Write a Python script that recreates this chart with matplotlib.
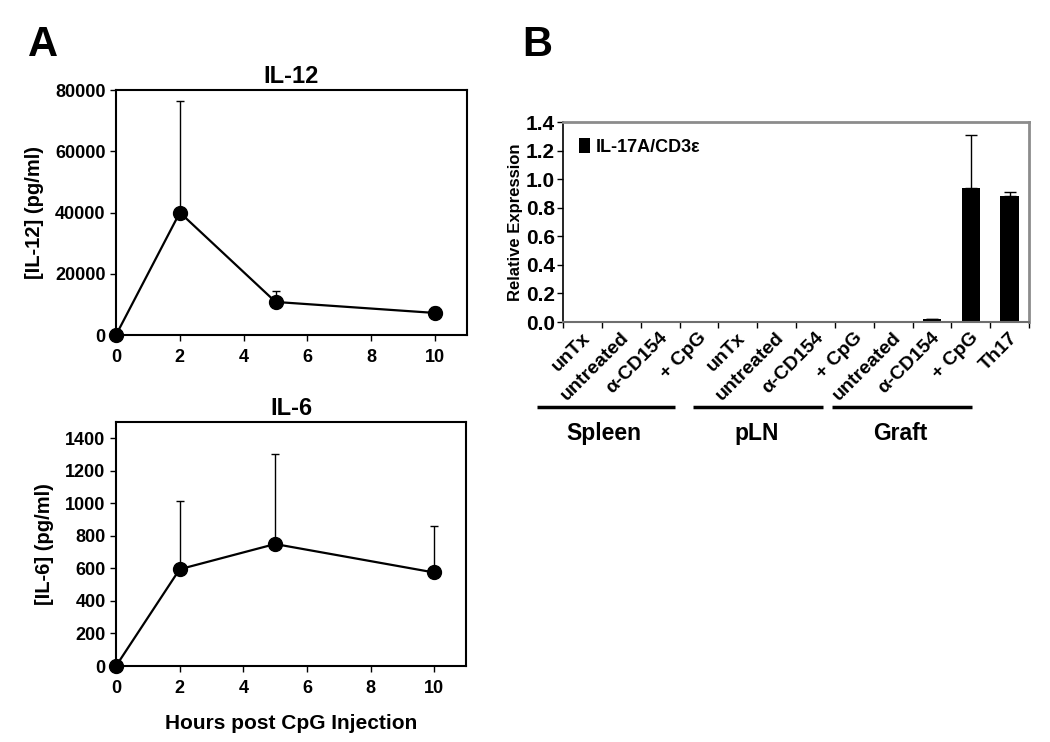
import matplotlib
matplotlib.use('Agg')
import matplotlib.pyplot as plt

plt.rcParams['font.family'] = ['Liberation Sans', 'DejaVu Sans']
plt.rcParams['font.weight'] = 'bold'

# Panel A: time course
hours = [0, 2, 5, 10]
il12 = [0, 40000, 10800, 7200]
il12_err = [0, 36500, 3700, 1800]
il6 = [0, 595, 750, 575]
il6_err = [0, 420, 555, 285]

# Panel B: relative expression
b_labels = ['unTx', 'untreated', '\u03b1-CD154', '+ CpG',
            'unTx', 'untreated', '\u03b1-CD154', '+ CpG',
            'untreated', '\u03b1-CD154', '+ CpG', 'Th17']
b_values = [0.002, 0.002, 0.002, 0.002, 0.002, 0.002, 0.002, 0.002,
            0.002, 0.02, 0.94, 0.88]
b_err = [0, 0, 0, 0, 0, 0, 0, 0, 0, 0, 0.37, 0.03]
groups = ['Spleen', 'pLN', 'Graft']
# underline extents in category units (layout)
group_lines = [(-1.17, 2.39), (2.85, 6.2), (6.43, 10.02)]

fig = plt.figure(figsize=(10.5, 7.42), dpi=100)


def time_panel(rect, y, err, ymax, yticks, title, ylabel, xlabel=None):
    ax = fig.add_axes(rect)
    ax.errorbar(hours, y, yerr=[[0] * len(err), err], fmt='none',
                ecolor='black', elinewidth=1, capsize=3, capthick=1)
    ax.plot(hours, y, color='black', lw=1.6, marker='o', ms=10,
            clip_on=False, zorder=5)
    ax.set_xlim(0, 11)
    ax.set_ylim(0, ymax)
    ax.set_xticks([0, 2, 4, 6, 8, 10])
    ax.set_yticks(yticks)
    for s in ax.spines.values():
        s.set_linewidth(1.5)
    ax.tick_params(direction='out', length=4, width=1, labelsize=13)
    ax.tick_params(axis='x', pad=6)
    ax.set_title(title, fontsize=17, fontweight='bold', pad=5)
    ax.set_ylabel(ylabel, fontsize=14.5, fontweight='bold', labelpad=8)
    if xlabel:
        ax.set_xlabel(xlabel, fontsize=15, fontweight='bold', labelpad=12)
    return ax


time_panel([0.1105, 0.5485, 0.3343, 0.3302], il12, il12_err, 80000,
           range(0, 80001, 20000), 'IL-12', '[IL-12] (pg/ml)')
time_panel([0.1105, 0.1024, 0.3333, 0.3288], il6, il6_err, 1500,
           range(0, 1401, 200), 'IL-6', '[IL-6] (pg/ml)',
           'Hours post CpG Injection')

# Panel B
axb = fig.add_axes([0.5362, 0.566, 0.4438, 0.2695])
x = list(range(len(b_values)))
axb.bar(x, b_values, width=0.47, color='black', label='IL-17A/CD3\u03b5',
        yerr=[[0] * len(b_err), b_err], error_kw=dict(ecolor='black', elinewidth=1,
                                                     capsize=4, capthick=1))
axb.set_xlim(-0.5, len(b_values) - 0.5)
axb.set_ylim(0, 1.4)
axb.set_yticks([0.0, 0.2, 0.4, 0.6, 0.8, 1.0, 1.2, 1.4])
axb.set_yticklabels(['%.1f' % v for v in axb.get_yticks()])
axb.set_xticks([i + 0.5 for i in range(-1, len(b_values))], minor=False)
axb.set_xticklabels([])
axb.tick_params(axis='both', direction='out', length=4, width=1, labelsize=15)
axb.tick_params(axis='y', pad=2)
axb.spines['top'].set_color('#8c8c8c')
axb.spines['right'].set_color('#8c8c8c')
axb.spines['top'].set_linewidth(2)
axb.spines['right'].set_linewidth(2)
axb.spines['left'].set_linewidth(1.2)
axb.spines['bottom'].set_color('#6e6e6e')
axb.spines['bottom'].set_linewidth(1.5)
axb.set_ylabel('Relative Expression', fontsize=12, fontweight='bold', labelpad=2)
axb.legend(loc='upper left', frameon=False, fontsize=13, handlelength=0.6,
           handleheight=0.9, handletextpad=0.3, borderaxespad=0.5)

for i, lab in enumerate(b_labels):
    axb.text(i - 0.02, -0.05, lab, rotation=45, ha='right', va='top',
             rotation_mode='anchor', fontsize=14, fontweight='bold',
             transform=axb.transData, clip_on=False)

for name, (a, b) in zip(groups, group_lines):
    axb.plot([a, b], [-0.595, -0.595], color='black', lw=2.5,
             clip_on=False, solid_capstyle='butt')
    axb.text((a + b) / 2 - 0.05, -0.78, name, ha='center', va='center',
             fontsize=16.5, fontweight='bold', clip_on=False)

fig.text(0.041, 0.939, 'A', fontsize=30, fontweight='bold', ha='center', va='center')
fig.text(0.512, 0.939, 'B', fontsize=30, fontweight='bold', ha='center', va='center')

fig.savefig('out.png', dpi=100)
